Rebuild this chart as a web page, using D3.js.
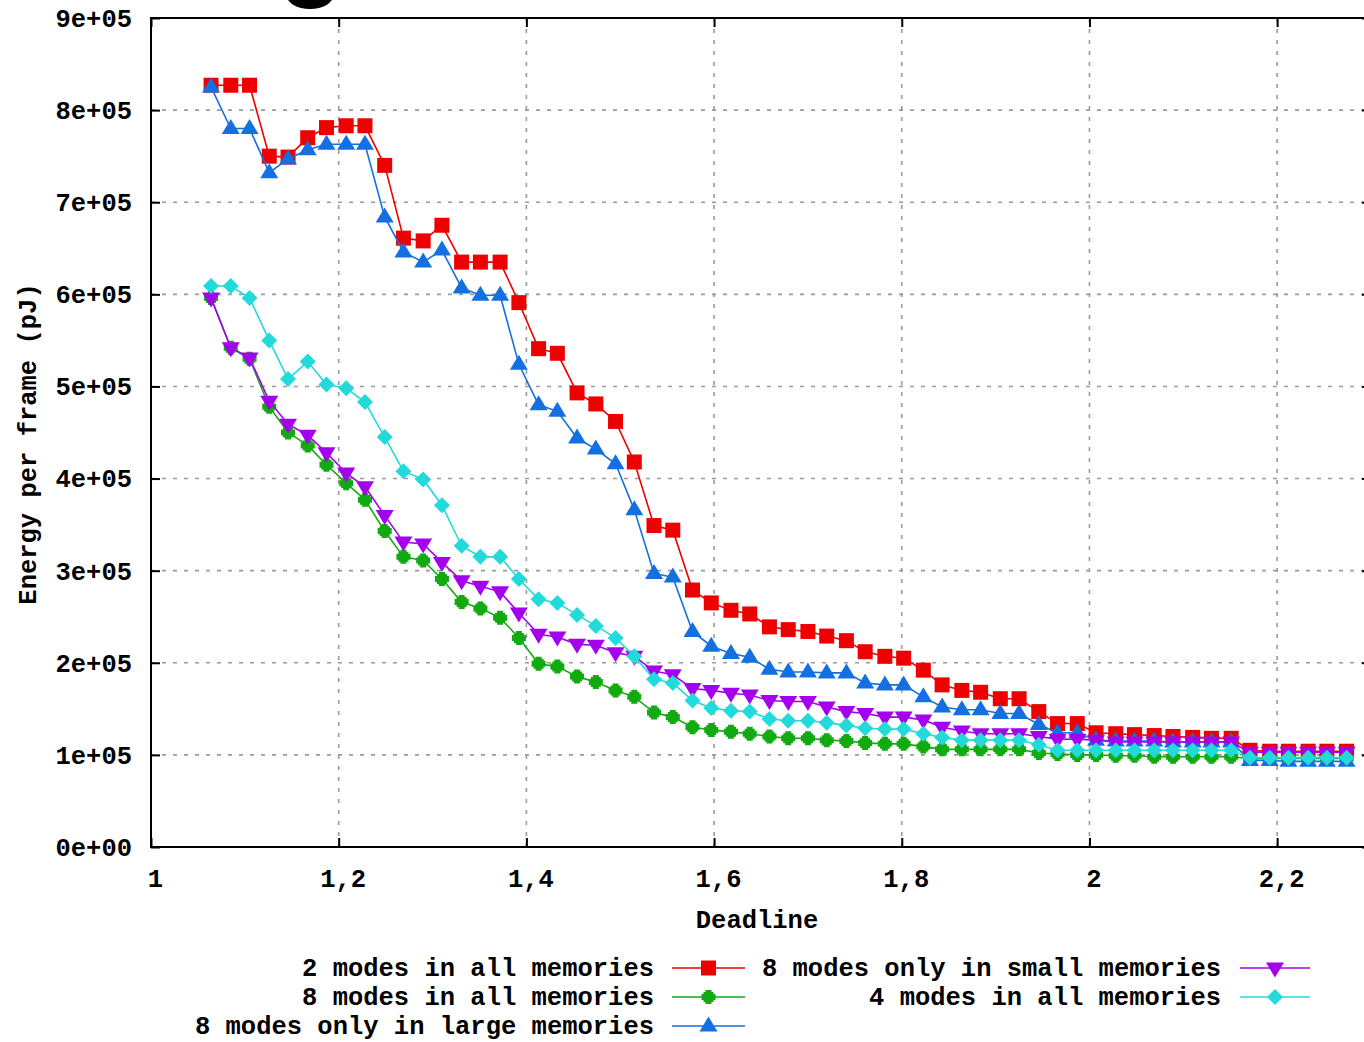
<!DOCTYPE html>
<html><head><meta charset="utf-8">
<script src="https://cdn.jsdelivr.net/npm/d3@7"></script>
<style>
body{margin:0;background:#fff;}
svg{display:block;}
text{font-family:"Liberation Mono","DejaVu Sans Mono",monospace;font-weight:bold;fill:#000;}
</style>
</head><body>
<svg id="c" width="1364" height="1042"></svg>
<script>
// ---------------- data ----------------
const deadlines = [1.064,1.085,1.105,1.126,1.146,1.167,1.187,1.208,1.228,1.249,
  1.269,1.290,1.310,1.331,1.351,1.372,1.392,1.413,1.433,1.454,
  1.474,1.495,1.515,1.536,1.556,1.577,1.597,1.618,1.638,1.659,
  1.679,1.700,1.720,1.741,1.761,1.782,1.802,1.823,1.843,1.864,
  1.884,1.905,1.925,1.946,1.966,1.987,2.007,2.028,2.048,2.069,
  2.089,2.110,2.130,2.151,2.171,2.192,2.212,2.233,2.253,2.274];

const modes2All = [827000,827000,827000,750000,749000,770000,781000,783000,783000,740000,
  661000,658000,675000,635000,635000,635000,591000,541000,536000,493000,
  481000,462000,418000,349000,344000,279000,265000,257000,253000,239000,
  236000,234000,229000,224000,212000,207000,205000,192000,176000,170000,
  168000,161000,161000,147000,134000,134000,124000,123000,122000,121000,
  120000,119000,118000,118000,105000,104000,104000,104000,104000,104000];

const modes8All = [596000,542000,530000,478000,450000,436000,415000,395000,377000,343000,
  315000,311000,291000,266000,259000,249000,227000,199000,196000,185000,
  179000,170000,163000,146000,141000,130000,127000,125000,123000,120000,
  118000,118000,116000,115000,113000,112000,112000,109000,106000,106000,
  106000,106000,106000,102000,101000,100000,100000,99000,99000,98000,
  98000,98000,98000,98000,96000,96000,96000,96000,96000,96000];

const modes8Large = [825000,780000,780000,732000,747000,757000,763000,763000,763000,684000,
  646000,635000,648000,607000,599000,599000,524000,480000,473000,444000,
  432000,416000,366000,297000,293000,234000,218000,210000,206000,193000,
  190000,190000,189000,189000,178000,176000,176000,163000,152000,149000,
  149000,145000,145000,133000,124000,124000,116000,115000,115000,115000,
  114000,114000,114000,114000,94000,94000,93000,93000,93000,93000];

const modes8Small = [596000,542000,531000,484000,459000,447000,428000,406000,391000,360000,
  331000,329000,309000,289000,283000,277000,254000,231000,228000,220000,
  219000,211000,207000,191000,187000,172000,170000,167000,165000,159000,
  158000,158000,152000,147000,145000,141000,141000,138000,130000,126000,
  123000,123000,123000,120000,117000,117000,116000,114000,114000,114000,
  114000,114000,114000,114000,103000,103000,103000,103000,103000,103000];

const modes4All = [609000,609000,596000,550000,508000,527000,502000,498000,483000,445000,
  408000,399000,371000,327000,315000,315000,291000,269000,265000,252000,
  240000,227000,207000,182000,178000,159000,151000,148000,147000,139000,
  137000,137000,135000,132000,129000,128000,128000,123000,119000,116000,
  116000,116000,116000,111000,105000,105000,105000,105000,105000,105000,
  105000,105000,105000,105000,97000,97000,97000,97000,97000,97000];

const seriesNames = ["2 modes in all memories","8 modes in all memories","8 modes only in large memories",
  "8 modes only in small memories","4 modes in all memories"];

const yTicks = [0,100000,200000,300000,400000,500000,600000,700000,800000,900000];
const yTickLabels = ["0e+00","1e+05","2e+05","3e+05","4e+05","5e+05","6e+05","7e+05","8e+05","9e+05"];
const xTicks = [1,1.2,1.4,1.6,1.8,2,2.2];
const xTickLabels = ["1","1,2","1,4","1,6","1,8","2","2,2"];
const xTitle = "Deadline";
const yTitle = "Energy per frame (pJ)";

// ---------------- styles ----------------
const series = [
  {name: seriesNames[0], values: modes2All,   color: "#ee0000", marker: "square"},
  {name: seriesNames[1], values: modes8All,   color: "#11aa11", marker: "plus"},
  {name: seriesNames[2], values: modes8Large, color: "#1470e0", marker: "triUp"},
  {name: seriesNames[3], values: modes8Small, color: "#a400ee", marker: "triDown"},
  {name: seriesNames[4], values: modes4All,   color: "#22dada", marker: "diamond"}
];
const markerPaths = {
  square: "M-7.5,-7.5H7.5V7.5H-7.5Z",
  plus: "M-3,-7H3V-5H5V-3H7V3H5V5H3V7H-3V5H-5V3H-7V-3H-5V-5H-3Z",
  triUp: "M0,-9.5L9,5.5L-9,5.5Z",
  triDown: "M0,9.5L9,-5.5L-9,-5.5Z",
  diamond: "M0,-8L8,0L0,8L-8,0Z"
};

const svg = d3.select("#c");
svg.append("rect").attr("width",1364).attr("height",1042).attr("fill","#fff");

const L = 151, R = 1371, T = 18, B = 847;
const x = d3.scaleLinear().domain([1, 2.3]).range([L, R]);
const y = d3.scaleLinear().domain([0, 900000]).range([B, T]);

// cropped title fragment at top
svg.append("ellipse").attr("cx",310).attr("cy",-5).attr("rx",23.5).attr("ry",14).attr("fill","#000");

// grid
const grid = svg.append("g");
grid.selectAll("line.gx").data(xTicks.filter(d => d > 1)).join("line")
  .attr("x1", d => x(d)).attr("x2", d => x(d)).attr("y1", T).attr("y2", B)
  .attr("stroke","#9a9a9a").attr("stroke-width",1.6).attr("stroke-dasharray","4,7");
grid.selectAll("line.gy").data(yTicks.filter(d => d > 0 && d < 900000)).join("line")
  .attr("y1", d => y(d)).attr("y2", d => y(d)).attr("x1", L).attr("x2", R)
  .attr("stroke","#9a9a9a").attr("stroke-width",1.6).attr("stroke-dasharray","4,7");

// axes with inward ticks
const fs = "25.5px";
const gL = svg.append("g").attr("transform",`translate(${L},0)`)
  .call(d3.axisLeft(y).tickValues(yTicks).tickFormat((d,i)=>yTickLabels[i]).tickSizeInner(-9).tickSizeOuter(0).tickPadding(19));
const gB = svg.append("g").attr("transform",`translate(0,${B})`)
  .call(d3.axisBottom(x).tickValues(xTicks).tickFormat((d,i)=>xTickLabels[i]).tickSizeInner(-9).tickSizeOuter(0).tickPadding(22));
const gT = svg.append("g").attr("transform",`translate(0,${T})`)
  .call(d3.axisTop(x).tickValues(xTicks).tickFormat("").tickSizeInner(-9).tickSizeOuter(0));
const gR = svg.append("g").attr("transform",`translate(${R},0)`)
  .call(d3.axisRight(y).tickValues(yTicks).tickFormat("").tickSizeInner(-9).tickSizeOuter(0));
[gL,gB,gT,gR].forEach(g => {
  g.select(".domain").remove();
  g.selectAll(".tick line").attr("stroke","#000").attr("stroke-width",2);
  g.selectAll("text").attr("font-family",null).style("font-size",fs).attr("fill","#000");
});
gL.selectAll("text").attr("dy","0.33em");
gB.selectAll("text").attr("dy","0.71em").attr("dx",4);

// border
svg.append("rect").attr("x",L).attr("y",T).attr("width",R-L).attr("height",B-T)
  .attr("fill","none").attr("stroke","#000").attr("stroke-width",2);

// axis titles
svg.append("text").attr("x",757).attr("y",928).attr("text-anchor","middle").style("font-size",fs).text(xTitle);
svg.append("text").attr("transform","translate(36,444) rotate(-90)").attr("text-anchor","middle").style("font-size",fs).text(yTitle);

// series
const line = d3.line().x((d,i) => x(deadlines[i])).y(d => y(d));
series.forEach(s => {
  const g = svg.append("g");
  g.append("path").attr("d", line(s.values)).attr("fill","none").attr("stroke",s.color).attr("stroke-width",1.6);
  g.selectAll("path.m").data(s.values).join("path").attr("class","m")
    .attr("transform",(d,i)=>`translate(${x(deadlines[i])},${y(d)})`)
    .attr("d", markerPaths[s.marker]).attr("fill", s.color);
});

// legend
const legendPos = [
  {tx:654, y:968, lx1:672, lx2:745},
  {tx:654, y:997, lx1:672, lx2:745},
  {tx:654, y:1026, lx1:672, lx2:745},
  {tx:1221, y:968, lx1:1240, lx2:1310},
  {tx:1221, y:997, lx1:1240, lx2:1310}
];
series.forEach((s,i) => {
  const p = legendPos[i];
  const g = svg.append("g");
  g.append("text").attr("x",p.tx).attr("y",p.y).attr("dy","0.33em").attr("text-anchor","end").style("font-size",fs).text(s.name);
  g.append("line").attr("x1",p.lx1).attr("x2",p.lx2).attr("y1",p.y).attr("y2",p.y).attr("stroke",s.color).attr("stroke-width",1.6);
  g.append("path").attr("transform",`translate(${(p.lx1+p.lx2)/2},${p.y})`).attr("d",markerPaths[s.marker]).attr("fill",s.color);
});
</script>
</body></html>
